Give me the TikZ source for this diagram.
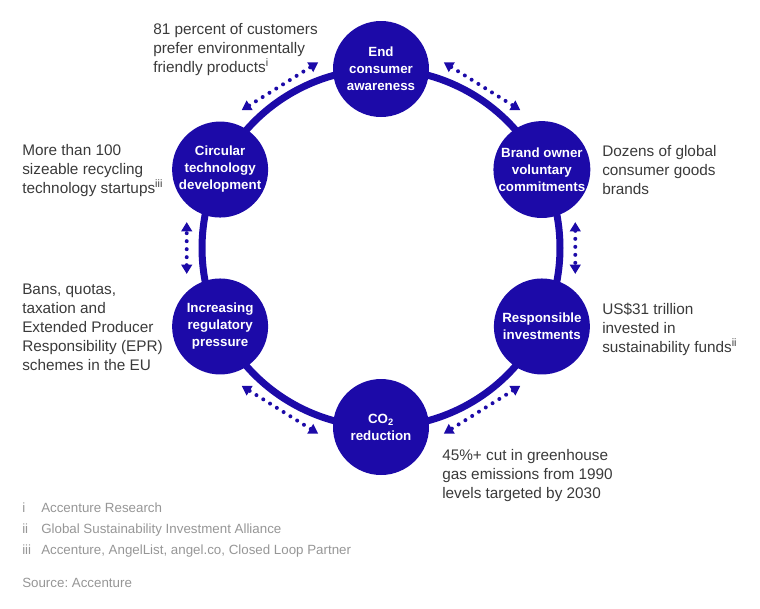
\documentclass[tikz,border=0pt]{standalone}
\usepackage{fontspec}
\setmainfont{Liberation Sans}
\usetikzlibrary{arrows.meta}
\usetikzlibrary{positioning, calc, backgrounds}

\definecolor{ringblue}{RGB}{28,10,168}
\definecolor{notegray}{RGB}{58,58,58}
\definecolor{footgray}{RGB}{150,150,150}

\begin{document}
\frenchspacing
\begin{tikzpicture}[
    x=0.75pt, y=0.75pt,
    hub/.style={circle, fill=ringblue, minimum size=72pt, inner sep=0pt, text=white, align=center, font=\fontsize{10}{12.75}\selectfont\bfseries},
    ring/.style={draw=ringblue, line width=5.25pt},
    link/.style={ringblue, line width=3pt, line cap=round, dash pattern=on 0pt off 6pt, {Triangle[length=7pt,width=8pt]}-{Triangle[length=7pt,width=8pt]}},
    note/.style={anchor=base west, inner sep=0pt, align=left, text=notegray, font=\fontsize{11.5}{14.2}\selectfont},
    foot/.style={anchor=base west, inner sep=0pt, text=footgray, font=\fontsize{10}{12}\selectfont}
]
    \useasboundingbox (0,0) rectangle (760,-608);
    \coordinate (ctr) at (381,-248);

    % hubs round the ring, clockwise from the top
    \foreach \a/\t [count=\i from 0] in {90/{End\\consumer\\awareness}, 26/{Brand owner\\voluntary\\commitments}, -26/{Responsible\\investments}, -90/{CO\textsubscript{2}\\reduction}, 206/{Increasing\\regulatory\\pressure}, 154/{Circular\\technology\\development}} {
        \draw (ctr) ++(\a:179) node[hub] (c\i) {\t};
    }

    \begin{scope}[on background layer]
        \foreach \i/\j/\b/\l in {0/1/32/0.92, 1/2/26/0.9, 2/3/32/0.92, 3/4/32/0.92, 4/5/26/0.9, 5/0/32/0.92} {
            \draw[ring] (c\i.center) to[bend left=\b, looseness=\l] (c\j.center);
        }
    \end{scope}

    % dotted two-way arrows outside the ring
    \foreach \m/\s [count=\i from 0] in {58/13.3, 0/7.6, 302/13.3, 238/13.3, 180/7.6, 122/13.3} {
        \path (ctr) ++(\m+\s:196) coordinate (p\i);
        \path (ctr) ++(\m-\s:196) coordinate (q\i);
        \draw[link] (p\i) -- (q\i);
    }

    % notes (anchored on the baseline of their last line)
    \draw (153,-72) node[note] (n0) {81 percent of customers\\prefer environmentally\\friendly products\textsuperscript{i}};
    \draw (602,-194) node[note] (n1) {Dozens of global\\consumer goods\\brands};
    \draw (602,-352) node[note] (n2) {US\$31 trillion\\invested in\\sustainability funds\textsuperscript{ii}};
    \draw (442,-498) node[note] (n3) {45\%+ cut in greenhouse\\gas emissions from 1990\\levels targeted by 2030};
    \draw (22,-370) node[note] (n4) {Bans, quotas,\\taxation and\\Extended Producer\\Responsibility (EPR)\\schemes in the EU};
    \draw (22,-193) node[note] (n5) {More than 100\\sizeable recycling\\technology startups\textsuperscript{iii}};

    % sources
    \foreach \r/\t [count=\i from 0] in {i/Accenture Research, ii/Global Sustainability Investment Alliance, iii/{Accenture, AngelList, angel.co, Closed Loop Partner}} {
        \draw (22,-512-21*\i) node[foot] (r\i) {\r};
        \draw (41,-512-21*\i) node[foot] (f\i) {\t};
    }
    \draw (22,-587) node[foot] (src) {Source: Accenture};
\end{tikzpicture}
\end{document}
